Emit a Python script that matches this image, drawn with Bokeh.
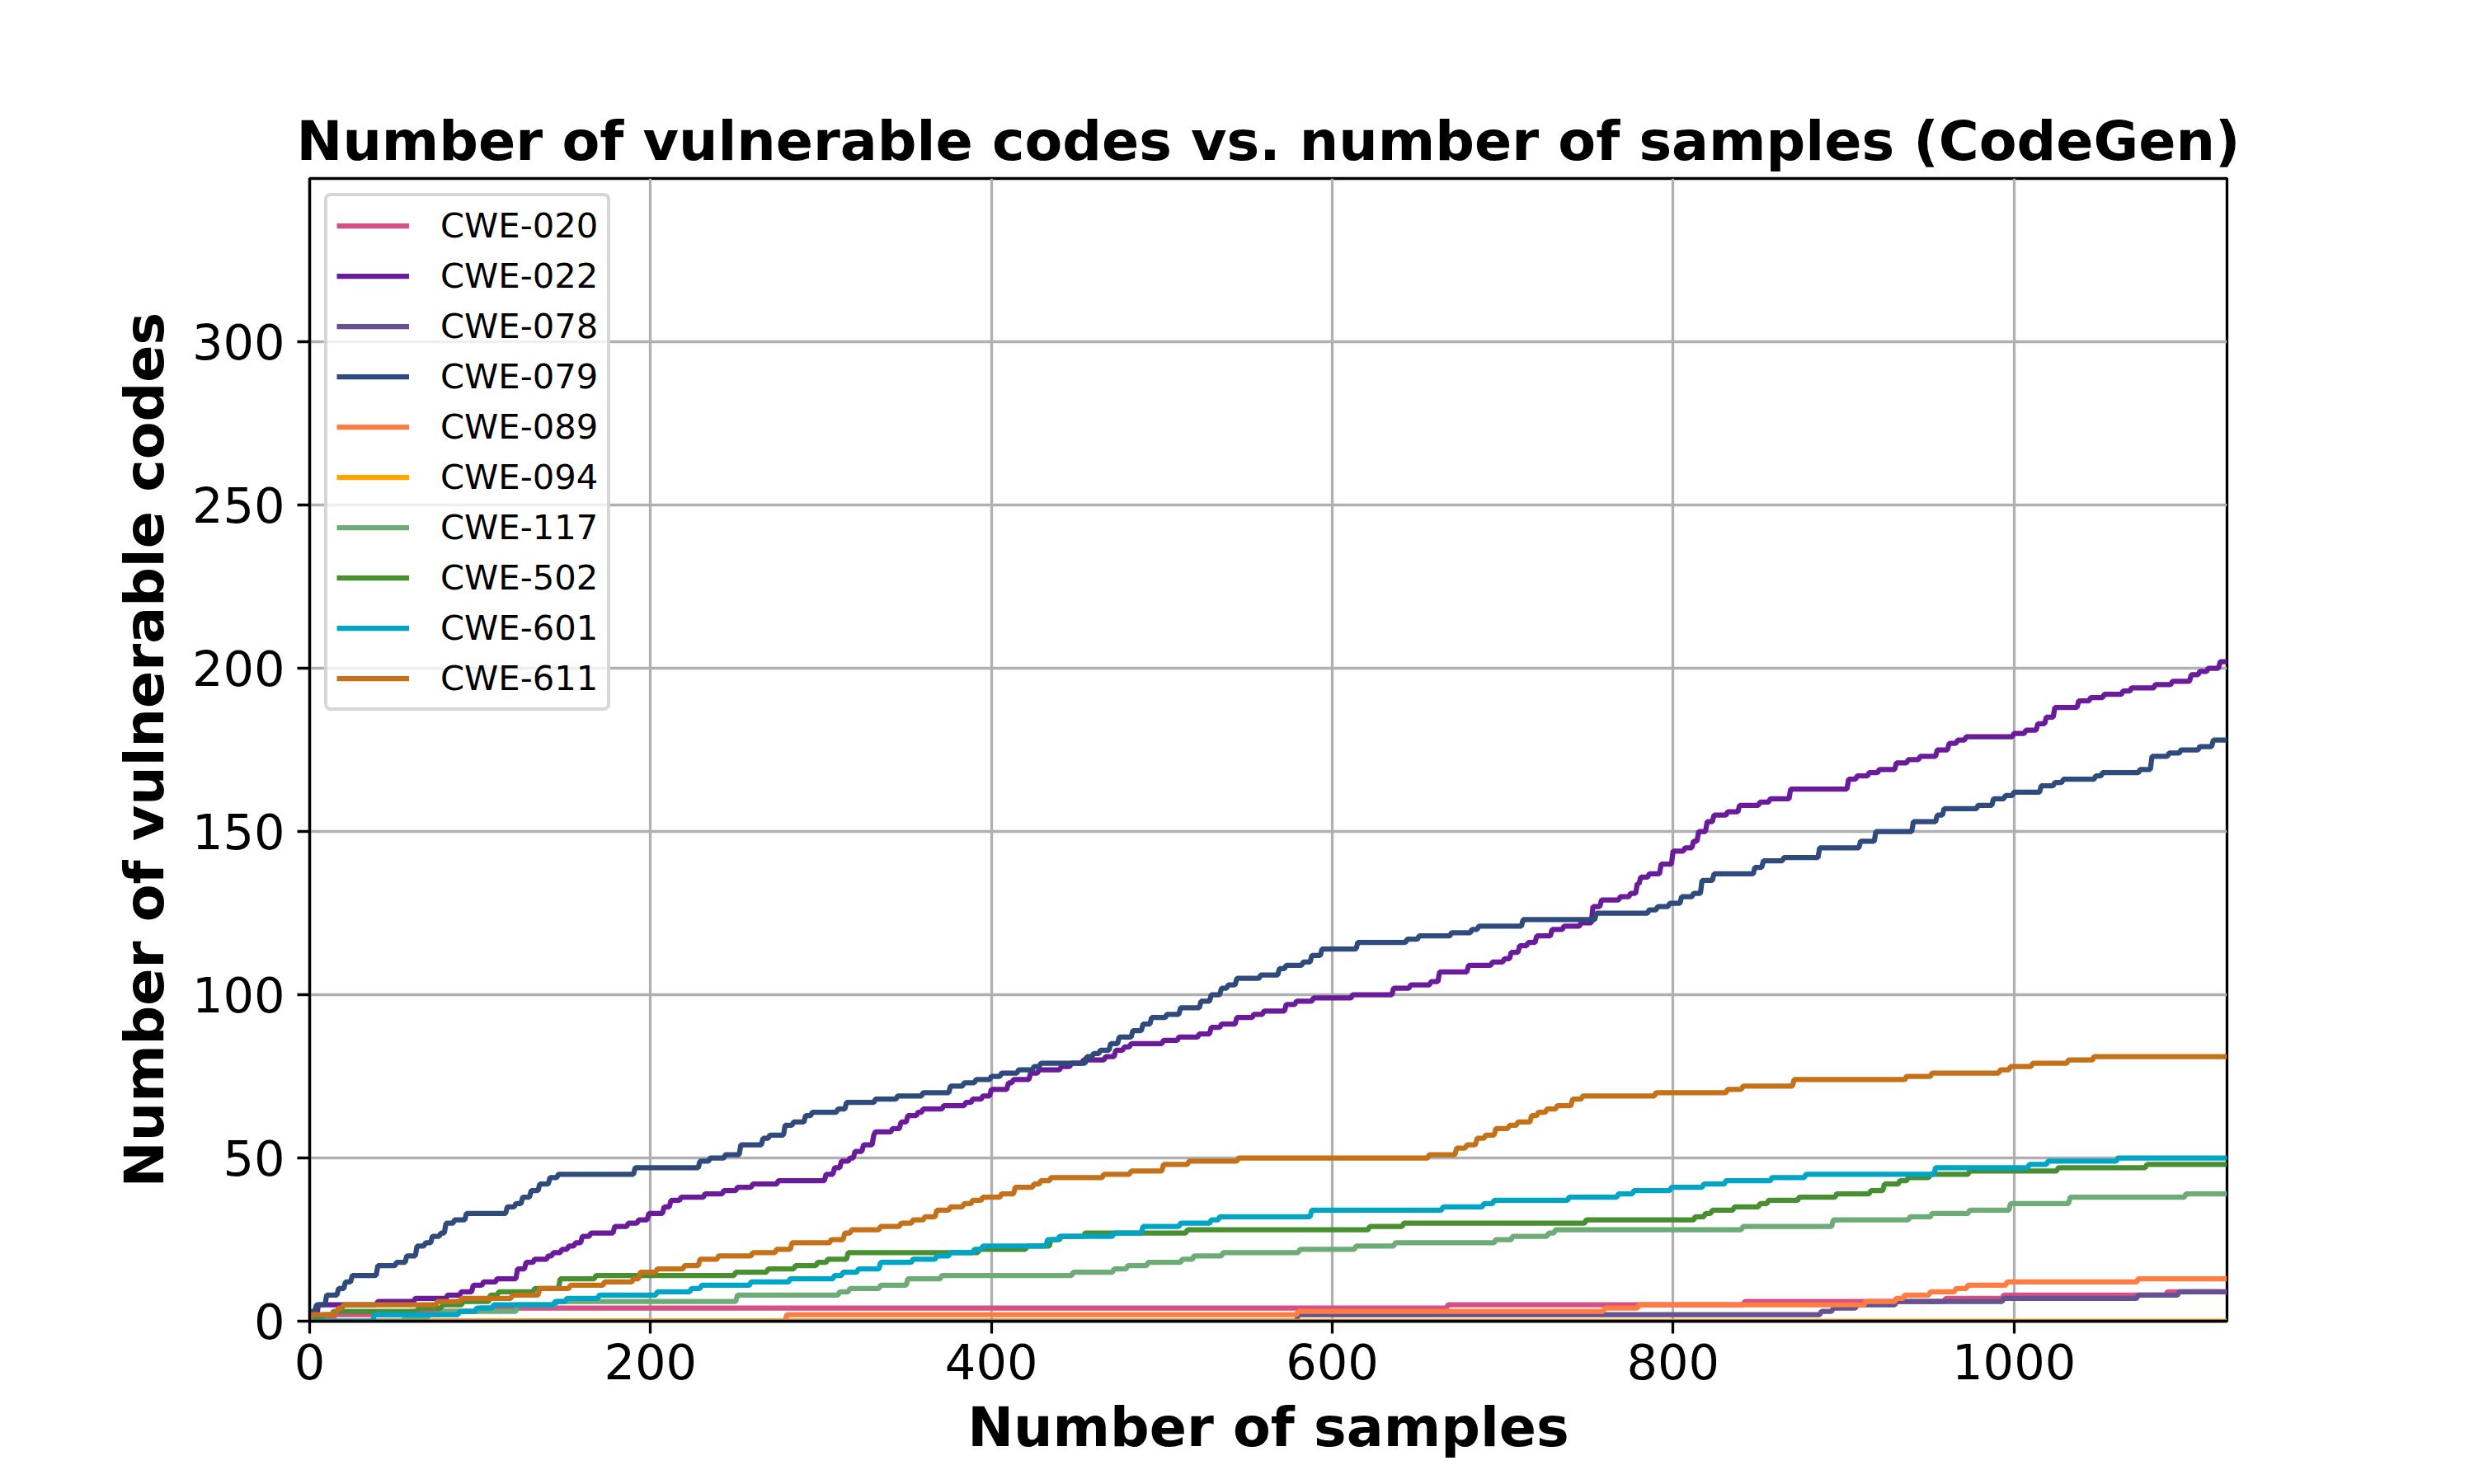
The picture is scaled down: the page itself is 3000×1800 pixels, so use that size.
import numpy as np
from bokeh.plotting import figure
from bokeh.models import Range1d, FixedTicker
from bokeh.embed import file_html
from bokeh.resources import INLINE

TITLE = "Number of vulnerable codes vs. number of samples (CodeGen)"
X_LABEL = "Number of samples"
Y_LABEL = "Number of vulnerable codes"
N_SAMPLES = 1125
X_TICKS = [0, 200, 400, 600, 800, 1000]
Y_TICKS = [0, 50, 100, 150, 200, 250, 300]

# step breakpoints: (sample index, cumulative count)
CWE_020 = [(0, 0), (3, 1), (15, 2), (60, 3), (100, 4), (668, 5), (842, 6), (960, 7), (994, 8), (1090, 9)]
CWE_022 = [(0, 0), (5, 5), (40, 6), (62, 7), (81, 8), (89, 9), (96, 11), (102, 12), (110, 13), (122, 16),
           (127, 18), (132, 19), (140, 20), (143, 21), (148, 22), (152, 23), (156, 24), (160, 26), (165, 27),
           (179, 29), (187, 30), (193, 31), (199, 33), (208, 35), (212, 37), (218, 38), (232, 39), (243, 40),
           (251, 41), (260, 42), (275, 43), (303, 45), (308, 47), (312, 49), (317, 50), (320, 52), (325, 54),
           (331, 57), (332, 58), (342, 59), (347, 61), (351, 63), (357, 64), (360, 65), (372, 66), (385, 67),
           (389, 68), (395, 69), (400, 71), (410, 73), (413, 74), (423, 76), (428, 77), (441, 78), (447, 79),
           (454, 80), (467, 81), (473, 83), (478, 84), (482, 85), (501, 86), (510, 87), (522, 88), (529, 90),
           (535, 91), (544, 93), (554, 94), (560, 95), (573, 97), (579, 98), (589, 99), (612, 100), (636, 102),
           (646, 103), (658, 104), (663, 107), (680, 109), (694, 110), (701, 111), (705, 113), (710, 115),
           (715, 116), (720, 118), (729, 120), (736, 121), (746, 122), (753, 127), (758, 129), (769, 130),
           (775, 131), (779, 134), (781, 136), (786, 137), (793, 140), (800, 144), (807, 145), (812, 147),
           (815, 150), (820, 153), (824, 155), (832, 156), (839, 158), (851, 159), (857, 160), (869, 163),
           (903, 166), (908, 167), (915, 168), (921, 169), (931, 171), (938, 172), (945, 173), (955, 175),
           (962, 177), (967, 178), (972, 179), (1000, 180), (1007, 181), (1014, 183), (1019, 185), (1024, 188),
           (1038, 190), (1045, 191), (1053, 192), (1064, 193), (1069, 194), (1083, 195), (1093, 196),
           (1104, 198), (1109, 199), (1114, 200), (1121, 202)]
CWE_078 = [(0, 0), (580, 2), (887, 3), (894, 4), (908, 5), (931, 6), (994, 7), (1073, 8), (1097, 9)]
CWE_079 = [(0, 0), (1, 3), (4, 5), (10, 8), (17, 10), (21, 12), (25, 14), (40, 17), (51, 18), (57, 20),
           (63, 23), (68, 24), (72, 26), (77, 27), (80, 30), (85, 31), (92, 33), (116, 35), (121, 36), (125, 38),
           (130, 40), (135, 42), (141, 44), (146, 45), (191, 47), (229, 49), (235, 50), (244, 51), (253, 54),
           (266, 56), (270, 57), (279, 60), (284, 61), (291, 63), (295, 64), (310, 65), (315, 67), (332, 68),
           (345, 69), (360, 70), (376, 72), (384, 73), (391, 74), (400, 75), (406, 76), (416, 77), (425, 78),
           (429, 79), (456, 81), (460, 82), (464, 83), (470, 85), (475, 87), (483, 89), (489, 91), (494, 93),
           (503, 94), (511, 96), (523, 98), (529, 100), (535, 102), (539, 103), (544, 105), (558, 106),
           (569, 108), (573, 109), (583, 110), (588, 112), (594, 114), (615, 116), (644, 117), (651, 118),
           (670, 119), (682, 120), (686, 121), (712, 123), (755, 125), (786, 126), (791, 127), (798, 128),
           (805, 130), (812, 131), (817, 135), (824, 137), (848, 139), (853, 141), (865, 142), (886, 145),
           (910, 147), (919, 150), (941, 153), (955, 155), (959, 157), (979, 158), (988, 160), (995, 161),
           (1000, 162), (1016, 164), (1024, 165), (1029, 166), (1048, 167), (1052, 168), (1074, 169),
           (1081, 173), (1091, 174), (1098, 175), (1109, 176), (1117, 178)]
CWE_089 = [(0, 0), (280, 2), (580, 3), (760, 4), (780, 5), (913, 6), (931, 7), (936, 8), (951, 9), (966, 10),
           (973, 11), (996, 12), (1073, 13)]
CWE_094 = [(0, 0)]
CWE_117 = [(0, 0), (56, 1), (70, 2), (78, 3), (122, 5), (145, 6), (251, 8), (311, 9), (317, 10), (335, 11),
           (351, 13), (371, 14), (448, 15), (472, 16), (480, 17), (492, 18), (512, 19), (519, 20), (536, 21),
           (581, 22), (614, 23), (637, 24), (696, 25), (706, 26), (727, 27), (731, 28), (841, 29), (894, 31),
           (939, 32), (952, 33), (974, 34), (998, 36), (1033, 38), (1101, 39)]
CWE_502 = [(0, 0), (3, 1), (8, 2), (14, 3), (64, 4), (78, 5), (90, 6), (106, 8), (111, 9), (132, 10), (147, 13),
           (168, 14), (250, 15), (269, 16), (285, 17), (298, 18), (304, 19), (316, 21), (393, 22), (421, 23),
           (435, 25), (441, 26), (455, 27), (515, 28), (622, 29), (642, 30), (749, 31), (813, 32), (819, 33),
           (823, 34), (836, 35), (851, 36), (856, 37), (874, 38), (896, 39), (916, 40), (924, 42), (933, 43),
           (938, 44), (951, 45), (974, 46), (1026, 47), (1078, 48)]
CWE_601 = [(0, 0), (38, 2), (88, 3), (98, 4), (108, 5), (144, 6), (151, 7), (170, 8), (204, 9), (224, 10),
           (230, 11), (259, 12), (282, 13), (308, 14), (313, 15), (322, 16), (335, 18), (354, 19), (368, 20),
           (376, 21), (390, 22), (395, 23), (433, 25), (440, 26), (472, 27), (489, 29), (511, 30), (529, 31),
           (534, 32), (588, 34), (665, 35), (689, 36), (695, 37), (739, 38), (768, 39), (777, 40), (799, 41),
           (818, 42), (831, 43), (858, 44), (878, 45), (954, 47), (1009, 48), (1020, 49), (1061, 50)]
CWE_611 = [(0, 0), (1, 2), (15, 3), (17, 4), (20, 5), (75, 6), (89, 7), (119, 8), (135, 10), (153, 11),
           (173, 12), (190, 13), (194, 15), (204, 16), (220, 17), (229, 19), (240, 20), (260, 21), (274, 22),
           (283, 24), (306, 25), (314, 27), (318, 28), (335, 29), (347, 30), (354, 31), (361, 32), (368, 34),
           (376, 35), (384, 36), (389, 37), (395, 38), (406, 39), (414, 41), (425, 42), (429, 43), (435, 44),
           (466, 45), (482, 46), (501, 48), (516, 49), (545, 50), (657, 51), (673, 53), (679, 54), (685, 56),
           (690, 57), (696, 59), (704, 60), (709, 61), (717, 63), (721, 64), (726, 65), (732, 66), (741, 68),
           (747, 69), (790, 70), (832, 71), (841, 72), (871, 74), (937, 75), (952, 76), (992, 77), (998, 78),
           (1011, 79), (1032, 80), (1047, 81)]

SERIES_NAMES = ["CWE-020", "CWE-022", "CWE-078", "CWE-079", "CWE-089",
                "CWE-094", "CWE-117", "CWE-502", "CWE-601", "CWE-611"]
SERIES_DATA = [CWE_020, CWE_022, CWE_078, CWE_079, CWE_089,
               CWE_094, CWE_117, CWE_502, CWE_601, CWE_611]
COLORS = ["#d45087", "#6a1b9a", "#665191", "#2f4b7c", "#ff7c43",
          "#ffa600", "#6dab77", "#488f31", "#00a5c6", "#c5711a"]

FONT = "DejaVu Sans"

p = figure(width=2984, height=1784, output_backend="svg", toolbar_location=None,
           x_range=Range1d(0, N_SAMPLES), y_range=Range1d(0, 350), title=TITLE)
p.min_border_left = 375
p.min_border_right = 284
p.min_border_top = 216
p.min_border_bottom = 182
p.background_fill_color = "white"
p.border_fill_color = "white"
p.outline_line_color = "black"
p.outline_line_width = 3.3

p.title.text_font = FONT
p.title.text_font_size = "66.7px"
p.title.text_font_style = "bold"
p.title.align = "center"
p.title.text_color = "black"
p.title.standoff = 14

p.xaxis.ticker = FixedTicker(ticks=X_TICKS)
p.yaxis.ticker = FixedTicker(ticks=Y_TICKS)
p.xaxis.axis_label = X_LABEL
p.yaxis.axis_label = Y_LABEL
for ax in (p.xaxis, p.yaxis):
    ax.axis_label_text_font = FONT
    ax.axis_label_text_font_size = "66.7px"
    ax.axis_label_text_font_style = "bold"
    ax.axis_label_text_color = "black"
    ax.major_label_text_font = FONT
    ax.major_label_text_font_size = "59px"
    ax.major_label_text_color = "black"
    ax.major_tick_out = 15
    ax.major_tick_in = 0
    ax.major_tick_line_width = 3.3
    ax.major_tick_line_color = "black"
    ax.minor_tick_line_color = None
    ax.axis_line_width = 3.3
    ax.axis_line_color = "black"
    ax.axis_label_standoff = 16
p.xaxis.major_label_standoff = 12
p.yaxis.major_label_standoff = 15

p.xgrid.grid_line_color = "#b0b0b0"
p.ygrid.grid_line_color = "#b0b0b0"
p.xgrid.grid_line_width = 3.3
p.ygrid.grid_line_width = 3.3

k = np.arange(N_SAMPLES + 1)
for name, data, color in zip(SERIES_NAMES, SERIES_DATA, COLORS):
    bx = np.array([d[0] for d in data])
    by = np.array([d[1] for d in data])
    idx = np.searchsorted(bx, k, side="right") - 1
    vals = by[idx]
    p.line(k, vals, line_color=color, line_width=6.25, legend_label=name)

lg = p.legend[0]
lg.location = "top_left"
lg.margin = 18
lg.padding = 11
lg.spacing = 12
lg.glyph_width = 88
lg.glyph_height = 41
lg.label_height = 41
lg.label_standoff = 38
lg.label_text_font = FONT
lg.label_text_font_size = "41.7px"
lg.label_text_color = "black"
lg.border_line_color = "#cccccc"
lg.border_line_width = 4
lg.border_line_alpha = 0.8
lg.background_fill_color = "white"
lg.background_fill_alpha = 0.8
if hasattr(lg, "border_radius"):
    lg.border_radius = 8

open("out.html", "w").write(file_html(p, INLINE))
